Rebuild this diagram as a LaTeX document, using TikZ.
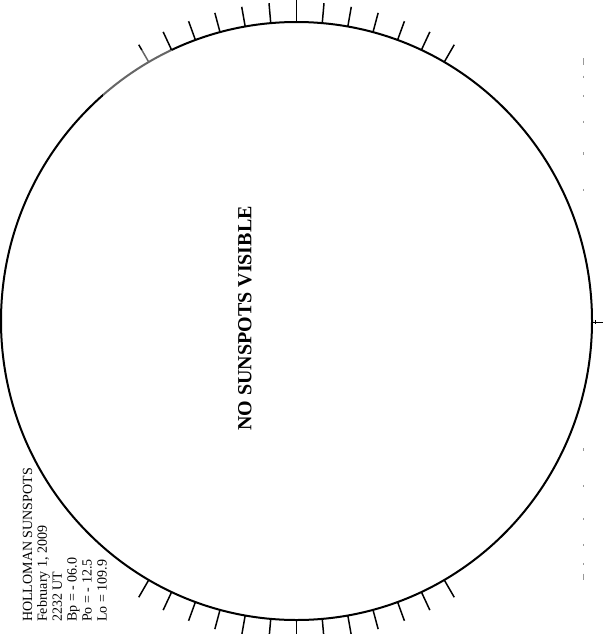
\documentclass[tikz,border=0pt]{standalone}
\usepackage{fontspec}
\setmainfont{Liberation Serif}
\begin{document}
\begin{tikzpicture}[x=1pt,y=-1pt,
  limb/.style={line width=2pt, black},
  tickmark/.style={line width=1.5pt, black},
  latmark/.style={line width=0.9pt, black!40},
  infotext/.style={rotate=90, anchor=base west, inner sep=0pt, font=\fontsize{14}{14}\selectfont},
  bigtext/.style={rotate=90, anchor=center, inner sep=0pt, font=\fontsize{20}{20}\selectfont\bfseries}]
\useasboundingbox (0,0) rectangle (605,634);
\clip (0,0) rectangle (605,634);
\fill[white] (0,0) rectangle (605,634);
\coordinate (c) at (296.5,321);
% solar limb
\draw[limb] (c) ellipse [x radius=295.5pt, y radius=299pt];
% top ticks
\foreach \a in {60,65,...,120}{
  \draw[tickmark] ({296.5+295.5*cos(\a)},{321-299*sin(\a)}) -- ({296.5+315.5*cos(\a)},{321-319*sin(\a)});
}
\draw[tickmark] (296.5,22) -- (296.5,-2);
% bottom ticks
\foreach \a in {240,245,...,300}{
  \draw[tickmark] ({296.5+295.5*cos(\a)},{321-299*sin(\a)}) -- ({296.5+315.5*cos(\a)},{321-319*sin(\a)});
}
\draw[tickmark] (296.5,620) -- (296.5,640);
% faded patch at top left
\fill[white, opacity=0.4] (103,50) rectangle (172,97);
% right-side latitude marks
\foreach \y in {76.7,96,121.7,153.3,190,449.3,486,519,545,564}{
  \draw[latmark] (583,\y-1.2) -- (583,\y+1.2);
}
\draw[latmark] (583,58.5) -- (583,65);
\draw[latmark] (583,573.5) -- (583,580);
% equator mark on the right limb
\coordinate (eqin) at (592.5,322);
\coordinate (eqout) at (603,322);
\draw[line width=0.9pt] (eqin) -- (eqout);
\draw[line width=0.7pt] (595.5,320.3) -- (595.5,323.7);
% texts
\node[bigtext] (nospots) at (245,318.5) {NO SUNSPOTS VISIBLE};
\node[infotext] (l1) at (32,622) {HOLLOMAN SUNSPOTS};
\node[infotext] (l2) at (46.9,622) {February 1, 2009};
\node[infotext] (l3) at (61.8,622) {2232 UT};
\node[infotext] (l4) at (76.7,622) {Bp = - 06.0};
\node[infotext] (l5) at (91.6,622) {Po = - 12.5};
\node[infotext] (l6) at (106.5,622) {Lo = 109.9};
\end{tikzpicture}
\end{document}
